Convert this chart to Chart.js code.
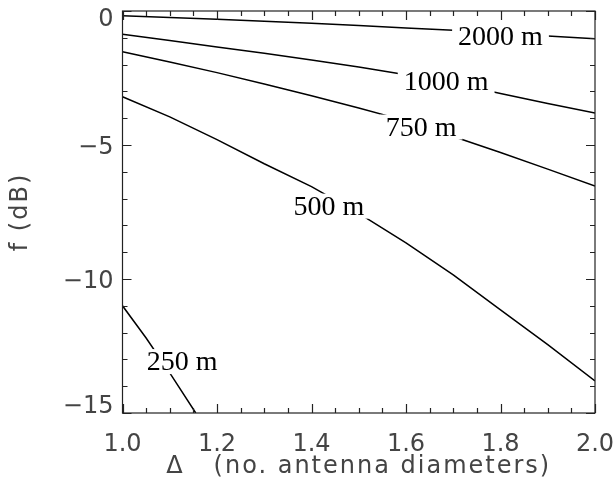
<!DOCTYPE html>
<html>
<head>
<meta charset="utf-8">
<script src="https://cdn.jsdelivr.net/npm/chart.js@4"></script>
<style>
  html, body { margin: 0; padding: 0; background: #fff; }
  #wrap { width: 616px; height: 492px; }
</style>
</head>
<body>
<div id="wrap"><canvas id="c" width="616" height="492"></canvas></div>
<script>
// 거리별 곡선 데이터 (x: 안테나 직경 수, y: dB)
const xs = [1.0, 1.1, 1.2, 1.3, 1.4, 1.5, 1.6, 1.7, 1.8, 1.9, 2.0];
const f2000 = [-0.18, -0.24, -0.31, -0.38, -0.46, -0.54, -0.63, -0.72, -0.82, -0.93, -1.04];
const f1000 = [-0.87, -1.10, -1.34, -1.58, -1.83, -2.09, -2.38, -2.69, -3.08, -3.45, -3.81];
const f750 = [-1.52, -1.90, -2.30, -2.72, -3.16, -3.62, -4.10, -4.68, -5.28, -5.90, -6.53];
const f500 = [-3.20, -3.95, -4.80, -5.70, -6.55, -7.55, -8.65, -9.85, -11.15, -12.45, -13.80];
const xs250 = [1.0, 1.05, 1.1, 1.155];
const f250 = [-11.0, -12.2, -13.5, -15.0];

// 곡선 라벨 (데이터 좌표)
const labelText = ['2000 m', '1000 m', '750 m', '500 m', '250 m'];
const labelX = [1.80, 1.685, 1.632, 1.437, 1.126];
const labelY = [-0.95, -2.65, -4.35, -7.3, -13.1];

const xTicks = [1.0, 1.2, 1.4, 1.6, 1.8, 2.0];
const yTicks = [0, -5, -10, -15];
const xTitle = 'Δ\u00a0\u00a0\u00a0(no. antenna diameters)';
const yTitle = 'f (dB)';

const toPts = (xv, yv) => xv.map((x, i) => ({ x: x, y: yv[i] }));

const lineStyle = {
    borderColor: '#000',
    borderWidth: 1.5,
    pointRadius: 0,
    fill: false,
    tension: 0
};

const axisFont = '24px "DejaVu Sans", sans-serif';

// 안쪽 눈금, 테두리, 라벨, 축 제목 그리기
const framePlugin = {
    id: 'frame',
    afterDatasetsDraw(chart) {
        const ctx = chart.ctx;
        const xs_ = chart.scales.x, ys_ = chart.scales.y;
        const a = chart.chartArea;

        // labels with white box
        ctx.save();
        ctx.font = '28px "Liberation Serif", "Times New Roman", serif';
        ctx.textAlign = 'center';
        ctx.textBaseline = 'middle';
        labelText.forEach((t, i) => {
            const px = xs_.getPixelForValue(labelX[i]);
            const py = ys_.getPixelForValue(labelY[i]);
            const w = ctx.measureText(t).width;
            ctx.fillStyle = '#fff';
            ctx.fillRect(px - w / 2 - 6, py - 13, w + 12, 25);
            ctx.fillStyle = '#000';
            ctx.fillText(t, px, py + 1);
        });
        ctx.restore();

        ctx.save();
        ctx.strokeStyle = '#222';
        ctx.lineWidth = 1.2;
        ctx.strokeRect(a.left, a.top, a.right - a.left, a.bottom - a.top);

        ctx.beginPath();
        for (let v = 1.0; v <= 2.0001; v += 0.05) {
            const px = Math.round(xs_.getPixelForValue(v)) + 0.5;
            const major = Math.abs(v * 5 - Math.round(v * 5)) < 1e-6;
            const len = major ? 9 : 5;
            ctx.moveTo(px, a.bottom); ctx.lineTo(px, a.bottom - len);
            ctx.moveTo(px, a.top); ctx.lineTo(px, a.top + len);
        }
        for (let v = 0; v >= -15; v -= 1) {
            const py = Math.round(ys_.getPixelForValue(v)) + 0.5;
            const len = (v % 5 === 0) ? 9 : 5;
            ctx.moveTo(a.left, py); ctx.lineTo(a.left + len, py);
            ctx.moveTo(a.right, py); ctx.lineTo(a.right - len, py);
        }
        ctx.stroke();
        ctx.restore();

        // y tick labels (kept inside the frame height) and axis titles
        ctx.save();
        ctx.font = axisFont;
        ctx.fillStyle = '#444';
        ctx.textBaseline = 'middle';
        ctx.textAlign = 'right';
        yTicks.forEach(v => {
            let py = ys_.getPixelForValue(v) + 3;
            py = Math.min(Math.max(py, a.top + 9), a.bottom - 6);
            ctx.fillText(v < 0 ? '\u2212' + Math.abs(v) : String(v), a.left - 9, py);
        });
        ctx.textAlign = 'center';
        ctx.letterSpacing = '2px';
        ctx.fillText(xTitle, (a.left + a.right) / 2, 467);
        ctx.translate(21, (a.top + a.bottom) / 2);
        ctx.rotate(-Math.PI / 2);
        ctx.fillText(yTitle, 0, 0);
        ctx.restore();
    }
};

const tickFont = { family: '"DejaVu Sans", sans-serif', size: 24 };

new Chart(document.getElementById('c'), {
    type: 'line',
    data: {
        datasets: [
            { ...lineStyle, data: toPts(xs, f2000) },
            { ...lineStyle, data: toPts(xs, f1000) },
            { ...lineStyle, data: toPts(xs, f750) },
            { ...lineStyle, data: toPts(xs, f500) },
            { ...lineStyle, data: toPts(xs250, f250) }
        ]
    },
    options: {
        responsive: false,
        animation: false,
        layout: { padding: { left: 0, right: 21, top: 11, bottom: 0 } },
        plugins: { legend: { display: false }, tooltip: { enabled: false } },
        scales: {
            x: {
                type: 'linear',
                min: 1.0,
                max: 2.0,
                afterFit(s) { s.height = 79; s.paddingLeft = 0; s.paddingRight = 0; },
                afterBuildTicks(s) { s.ticks = xTicks.map(v => ({ value: v })); },
                grid: { display: false, drawTicks: false },
                border: { display: false },
                ticks: {
                    color: '#444',
                    font: tickFont,
                    padding: 17,
                    maxRotation: 0,
                    callback: v => Number(v).toFixed(1)
                }
            },
            y: {
                type: 'linear',
                min: -15,
                max: 0,
                afterFit(s) { s.width = 122.5; s.paddingTop = 0; s.paddingBottom = 0; },
                afterBuildTicks(s) { s.ticks = yTicks.map(v => ({ value: v })); },
                grid: { display: false, drawTicks: false },
                border: { display: false },
                ticks: { display: false }
            }
        }
    },
    plugins: [framePlugin]
});
</script>
</body>
</html>
